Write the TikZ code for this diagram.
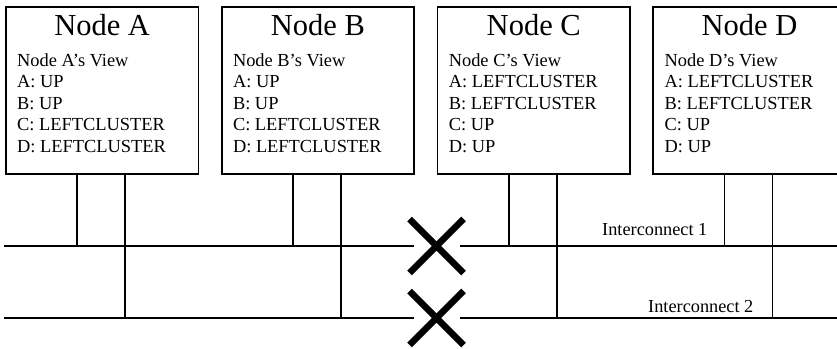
\documentclass[tikz,border=0pt]{standalone}
\usepackage{fontspec}
\setmainfont{Liberation Serif}
\usetikzlibrary{positioning,calc}
\tikzset{
  nodebox/.style={draw,line width=1.8pt,minimum width=192.5pt,minimum height=167pt,inner sep=0pt},
  ttl/.style={anchor=base,inner sep=0pt,font=\fontsize{30.5}{33}\selectfont},
  view/.style={anchor=base west,inner sep=0pt,align=left,font=\fontsize{18.4}{21.5}\selectfont},
  wire/.style={line width=1.8pt},
  cut/.style={line width=6.5pt},
  lab/.style={anchor=base west,inner sep=0pt,font=\fontsize{18.3}{20}\selectfont},
}
\begin{document}
\begin{tikzpicture}[x=1pt,y=-1pt,node distance=21.5pt]
\useasboundingbox (0,0) rectangle (837,348);
\clip (0,0) rectangle (837,348);
% cluster nodes
\node[nodebox,anchor=north west] (a) at (5,6) {};
\node[nodebox,right=of a] (b) {};
\node[nodebox,right=of b] (c) {};
\node[nodebox,right=of c] (d) {};
% titles and views
\foreach \n/\N/\p/\q/\r/\s in {a/A/UP/UP/LEFTCLUSTER/LEFTCLUSTER, b/B/UP/UP/LEFTCLUSTER/LEFTCLUSTER,
    c/C/LEFTCLUSTER/LEFTCLUSTER/UP/UP, d/D/LEFTCLUSTER/LEFTCLUSTER/UP/UP}{
  \node[ttl] (\n t) at ([yshift=-29pt]\n.north) {Node \N};
  \node[view] (\n v) at ([shift={(12pt,-146pt)}]\n.north west) {Node \N’s View\\A: \p\\B: \q\\C: \r\\D: \s};
}
% interconnects
\coordinate (i1w) at (4,246); \coordinate (i1e) at (837,246);
\coordinate (i2w) at (4,318); \coordinate (i2e) at (837,318);
\coordinate (x1) at (436.5,246); \coordinate (x2) at (436.5,318);
\draw[wire] (i1w) -- ([xshift=-23pt]x1) ([xshift=23.5pt]x1) -- (i1e);
\draw[wire] (i2w) -- ([xshift=-23pt]x2) ([xshift=23.5pt]x2) -- (i2e);
\foreach \n in {a,b,c,d}{
  \draw[wire] ([xshift=72pt]\n.south west) -- ([xshift=72pt]\n.south west |- i1w);
  \draw[wire] ([xshift=120pt]\n.south west) -- ([xshift=120pt]\n.south west |- i2w);
}
% broken links
\foreach \x in {x1,x2}
  \draw[cut] ([shift={(-27pt,27pt)}]\x) -- ([shift={(27pt,-27pt)}]\x)
    ([shift={(-27pt,-27pt)}]\x) -- ([shift={(27pt,27pt)}]\x);
\node[lab] (l1) at (602,235) {Interconnect 1};
\node[lab] (l2) at (648,312) {Interconnect 2};
\end{tikzpicture}
\end{document}
